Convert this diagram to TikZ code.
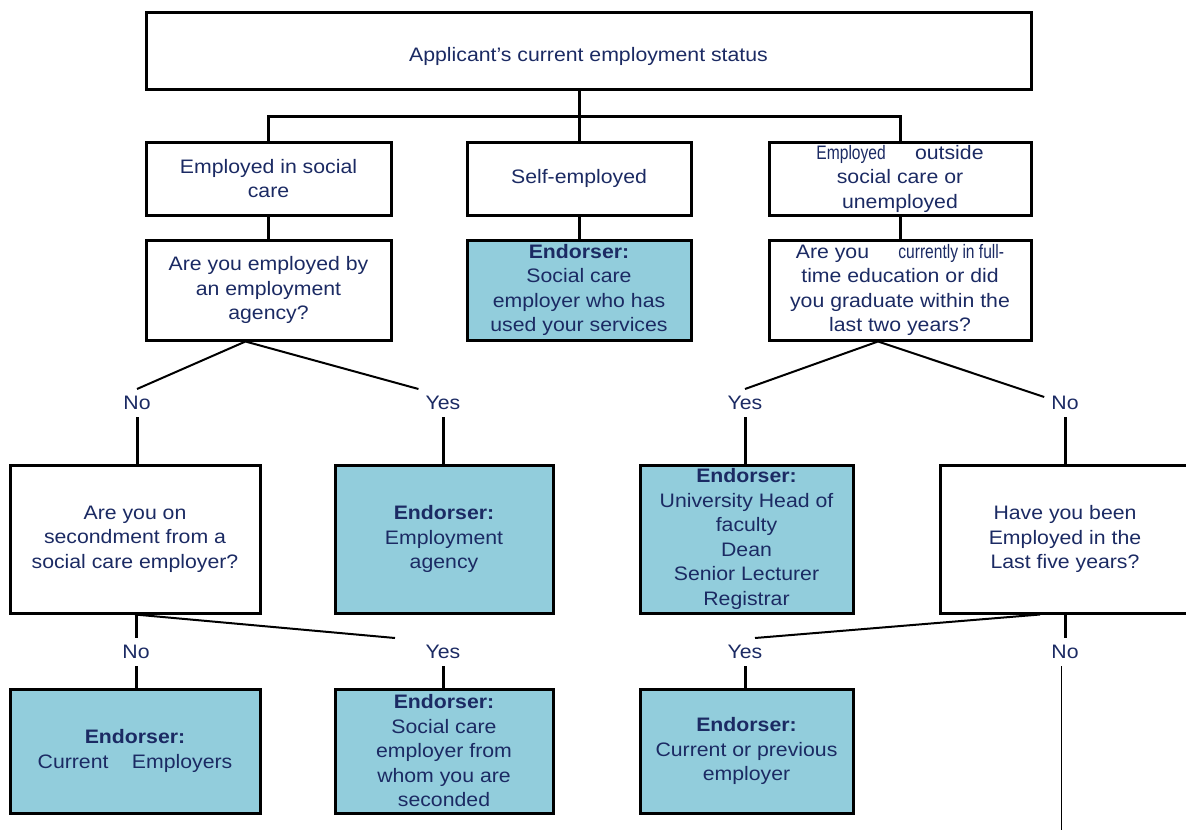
\documentclass[tikz,border=0pt]{standalone}
\usepackage{fontspec}
\setmainfont[FakeStretch=1.09]{Liberation Sans}
\newfontfamily\narrowfont[FakeStretch=0.8]{Liberation Sans}
\usetikzlibrary{positioning}
\definecolor{navy}{HTML}{1B2A63}
\definecolor{endblue}{HTML}{92CDDC}
\newcommand{\erlabel}{\textbf{Endorser:}}
\newcommand{\smalltxt}[1]{{\narrowfont #1}}
\tikzset{
qbox/.style={
  draw,
  line width=3pt,
  text=navy,
  align=center,
  inner sep=0pt,
  font=\fontsize{19.5}{24.5}\selectfont
  },
ebox/.style={
  qbox,
  fill=endblue
  },
ans/.style={
  text=navy,
  inner sep=7pt,
  font=\fontsize{19.5}{24.5}\selectfont
  },
link/.style={line width=3pt},
split/.style={line width=2pt}
}

\begin{document}
\begin{tikzpicture}[x=1pt,y=-1pt]
    \useasboundingbox (0,0) rectangle (1186,830);
    % top level
    \node[qbox,minimum width=885pt,minimum height=77pt,text height=22pt,text depth=0pt] (status) at (588.5,50.5) {Applicant’s current employment status};
    \coordinate (bus) at (579,116);
    \node[qbox,minimum width=245pt,minimum height=73pt] (social) at (268.5,178.5) {Employed in social\\care};
    \node[qbox,minimum width=224pt,minimum height=73pt] (self) at (579,178.5) {Self-employed};
    \node[qbox,minimum width=262pt,minimum height=73pt] (outside) at (900,178.5) {\smalltxt{Employed}\hspace{1.5em}outside\\social care or\\unemployed};
    % second row
    \node[qbox,minimum width=245pt,minimum height=100pt] (agency) at (268.5,290) {Are you employed by\\an employment\\agency?};
    \node[ebox,minimum width=224pt,minimum height=100pt] (selfend) at (579,290) {\erlabel\\Social care\\employer who has\\used your services};
    \node[qbox,minimum width=262pt,minimum height=100pt] (study) at (900,290) {Are you\hspace{1.5em}\smalltxt{currently in full-}\\time education or did\\you graduate within the\\last two years?};
    % answers
    \node[ans] (no1) at (137,403) {No};
    \node[ans] (yes1) at (443,403) {Yes};
    \node[ans] (yes2) at (745,403) {Yes};
    \node[ans] (no2) at (1065,403) {No};
    % third row
    \node[qbox,minimum width=250pt,minimum height=148pt] (second) at (135,539) {Are you on\\secondment from a\\social care employer?};
    \node[ebox,minimum width=218pt,minimum height=148pt] (agencyend) at (444,539) {\erlabel\\Employment\\agency};
    \node[ebox,minimum width=213pt,minimum height=148pt] (uni) at (746.5,539) {\erlabel\\University Head of\\faculty\\Dean\\Senior Lecturer\\Registrar};
    \node[qbox,minimum width=250pt,minimum height=148pt] (five) at (1065,539) {Have you been\\Employed in the\\Last five years?};
    % answers
    \node[ans] (no3) at (136,652) {No};
    \node[ans] (yes3) at (443,652) {Yes};
    \node[ans] (yes4) at (745,652) {Yes};
    \node[ans] (no4) at (1065,652) {No};
    % bottom row
    \node[ebox,minimum width=250pt,minimum height=124pt] (current) at (135,751) {\erlabel\\Current\hspace{1.2em}Employers};
    \node[ebox,minimum width=218pt,minimum height=124pt] (secend) at (444,751) {\erlabel\\Social care\\employer from\\whom you are\\seconded};
    \node[ebox,minimum width=213pt,minimum height=124pt] (previous) at (746.5,751) {\erlabel\\Current or previous\\employer};
    \coordinate (end) at (1061,830);

    % connectors
    \draw[link] (status.south -| bus) -- (bus);
    \draw[link] (social.north) |- (bus) -| (outside.north);
    \draw[link] (bus) -- (self.north);
    \draw[link] (social.south) -- (agency.north);
    \draw[link] (self.south) -- (selfend.north);
    \draw[link] (outside.south) -- (study.north);
    \draw[split] (no1.north) -- ([xshift=-23pt]agency.south) -- (yes1.north west);
    \draw[split] (yes2.north) -- ([xshift=-22pt]study.south) -- ([yshift=-8pt]no2.north west);
    \draw[link] (no1.south) -- (second.north -| no1.south);
    \draw[link] (yes1.south) -- (agencyend.north -| yes1.south);
    \draw[link] (yes2.south) -- (uni.north -| yes2.south);
    \draw[link] (no2.south) -- (five.north);
    \draw[link] (second.south -| no3.north) -- (no3.north);
    \draw[split] (second.south) -- ([xshift=-48pt]yes3.north);
    \draw[link] (no3.south) -- (current.north -| no3.south);
    \draw[link] (yes3.south) -- (secend.north -| yes3.south);
    \draw[split] ([xshift=-25pt]five.south) -- ([xshift=10pt]yes4.north);
    \draw[link] (five.south) -- (no4.north);
    \draw[link] (yes4.south) -- (previous.north -| yes4.south);
    \draw[line width=1pt] (no4.south -| end) -- (end);
\end{tikzpicture}
\end{document}
